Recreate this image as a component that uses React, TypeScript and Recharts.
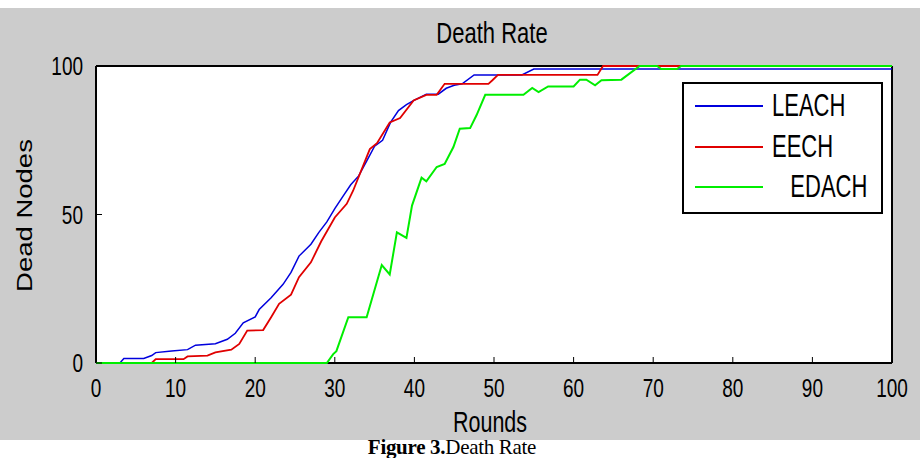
import React from "react";
import { LineChart, Line, XAxis, YAxis, CartesianGrid, Legend } from "recharts";

// axis ticks
const roundTicks = [0, 10, 20, 30, 40, 50, 60, 70, 80, 90, 100];
const deadTicks = [0, 50, 100];

// LEACH
const leachRounds = [0, 3, 3.5, 6, 7, 7.5, 9.5, 11.5, 12.5, 15, 16.5, 17.5, 18.5, 20, 20.5, 22, 23.5, 24.5, 25.5, 27, 28, 29, 30, 31, 32, 33, 34, 35, 36, 37, 38, 39, 40, 41.5, 43, 44, 45, 46, 47.5, 53.5, 55, 100];
const leachDead = [0, 0, 1.5, 1.5, 2.5, 3.5, 4, 4.5, 6, 6.5, 8, 10, 13.5, 15.5, 18, 22, 26.5, 30.5, 36, 40, 44, 47.5, 52, 56, 60, 63, 68, 73, 75, 81, 85, 87, 88.5, 90.5, 90.5, 92.5, 93.5, 94, 97, 97, 99, 99];

// EECH
const eechRounds = [0, 7, 7.5, 11, 11.5, 14, 15, 17, 18, 19, 21, 22, 23, 24.5, 25.5, 27, 28.3, 30, 31.5, 32.3, 33.2, 34.4, 35.3, 36.9, 38.2, 39.9, 41.5, 42.8, 43.8, 49.3, 49.8, 50.5, 63, 63.7, 100];
const eechDead = [0, 0, 1.3, 1.3, 2.2, 2.5, 3.6, 4.5, 6.4, 10.9, 11.1, 15.4, 19.9, 23, 28.9, 33.9, 41, 49, 53.6, 58, 64, 72, 74, 81, 82.5, 88.4, 90.3, 90.3, 94, 94, 95.2, 97, 97, 100, 100];

// EDACH
const edachRounds = [0, 29, 29.8, 30.2, 31.7, 34, 35.9, 36.9, 37.8, 39, 39.7, 40.9, 41.5, 42.8, 43.8, 44.9, 45.7, 47, 47.8, 48.9, 53.7, 54.8, 55.6, 56.8, 60, 60.8, 61.6, 62.7, 63.5, 66, 68.3, 70.5, 71, 73, 73.5, 100];
const edachDead = [0, 0, 3, 4, 15.4, 15.4, 33, 29.8, 44, 42.1, 53, 62.4, 61.2, 66, 67, 72.7, 78.9, 79.1, 83.4, 90.3, 90.3, 92.6, 91.2, 93.1, 93.1, 95.4, 95.4, 93.5, 95.2, 95.4, 100, 100, 99, 99, 100, 100];

const seriesNames = ["LEACH", "EECH", "   EDACH"];
const seriesColors = ["#0000dd", "#e00000", "#00ee00"];
const seriesWidths = [1.5, 1.8, 2];

const toPoints = (rounds: number[], dead: number[]) =>
  rounds.map((round, i) => ({ round, dead: dead[i] }));

const seriesData = [
  toPoints(leachRounds, leachDead),
  toPoints(eechRounds, eechDead),
  toPoints(edachRounds, edachDead),
];

const SANS = "'Liberation Sans', Arial, sans-serif";
const TICK_LEN = 6;
// the figure text looks stretched vertically
const STRETCH = 1.33;

const TallText = ({ x, y, size, anchor = "middle", children }: any) => (
  <text
    transform={`translate(${x} ${y}) scale(1 ${STRETCH})`}
    textAnchor={anchor}
    fontSize={size}
    fontFamily={SANS}
    fill="#000"
  >
    {children}
  </text>
);

const BottomTick = ({ x, y, payload }: any) => (
  <g>
    <line x1={x} y1={y} x2={x} y2={y - TICK_LEN} stroke="#000" />
    <TallText x={x} y={y + 34} size={19}>
      {payload.value}
    </TallText>
  </g>
);

const TopTick = ({ x, y }: any) => (
  <line x1={x} y1={y} x2={x} y2={y + TICK_LEN} stroke="#000" />
);

const LeftTick = ({ x, y, payload }: any) => (
  <g>
    <line x1={x} y1={y} x2={x + TICK_LEN} y2={y} stroke="#000" />
    <TallText x={x - 13} y={y + 9} size={19} anchor="end">
      {payload.value}
    </TallText>
  </g>
);

const RightTick = ({ x, y }: any) => (
  <line x1={x} y1={y} x2={x - TICK_LEN} y2={y} stroke="#000" />
);

const TitleLabel = ({ viewBox }: any) => (
  <TallText x={viewBox.x + viewBox.width / 2 - 2} y={viewBox.y + 43} size={22}>
    Death Rate
  </TallText>
);

const XTitle = ({ viewBox }: any) => (
  <TallText x={viewBox.x + viewBox.width / 2 - 4} y={viewBox.y + 69} size={21.5}>
    Rounds
  </TallText>
);

const YTitle = ({ viewBox }: any) => {
  const cx = viewBox.x + 32;
  const cy = viewBox.y + viewBox.height / 2 + 1;
  return (
    <text
      transform={`translate(${cx} ${cy}) rotate(-90) scale(1.25 1)`}
      textAnchor="middle"
      fontSize={22}
      fontFamily={SANS}
      fill="#000"
    >
      Dead Nodes
    </text>
  );
};

const LegendBox = () => (
  <div
    style={{
      boxSizing: "border-box",
      width: 201,
      height: 132,
      border: "2px solid #000",
      background: "#fff",
      paddingTop: 2,
      paddingLeft: 11,
    }}
  >
    {seriesNames.map((name, i) => (
      <div key={name} style={{ display: "flex", alignItems: "center", height: 40.5 }}>
        <span style={{ display: "inline-block", width: 68, height: 2, background: seriesColors[i] }} />
        <span
          style={{
            display: "inline-block",
            marginLeft: 9,
            fontSize: 22,
            fontFamily: SANS,
            color: "#000",
            whiteSpace: "pre",
            lineHeight: 1,
            transform: "scaleY(1.4)",
          }}
        >
          {name}
        </span>
      </div>
    ))}
  </div>
);

export default function App() {
  return (
    <div style={{ position: "absolute", left: 0, top: 0, width: 920, height: 458, background: "#fff" }}>
      <div style={{ position: "absolute", left: 0, top: 8, width: 920, height: 432, background: "#cccccc" }} />
      <div style={{ position: "absolute", left: 0, top: 0 }}>
        <LineChart width={920} height={458} margin={{ top: 0, right: 0, bottom: 0, left: 0 }}>
          <CartesianGrid horizontal={false} vertical={false} fill="#fff" xAxisId="bottom" yAxisId="left" />
          <XAxis
            xAxisId="bottom"
            dataKey="round"
            type="number"
            domain={[0, 100]}
            ticks={roundTicks}
            interval={0}
            height={95}
            tickSize={0}
            tickMargin={0}
            tick={BottomTick}
            axisLine={{ stroke: "#000", strokeWidth: 2 }}
            label={{ content: XTitle }}
          />
          <XAxis
            xAxisId="top"
            orientation="top"
            type="number"
            domain={[0, 100]}
            ticks={roundTicks}
            interval={0}
            height={66}
            tickSize={0}
            tickMargin={0}
            tick={TopTick}
            axisLine={{ stroke: "#000", strokeWidth: 2 }}
            label={{ content: TitleLabel }}
          />
          <YAxis
            yAxisId="left"
            type="number"
            domain={[0, 100]}
            ticks={deadTicks}
            interval={0}
            width={96}
            tickSize={0}
            tickMargin={0}
            tick={LeftTick}
            axisLine={{ stroke: "#000", strokeWidth: 2 }}
            label={{ content: YTitle }}
          />
          <YAxis
            yAxisId="right"
            orientation="right"
            type="number"
            domain={[0, 100]}
            ticks={deadTicks}
            interval={0}
            width={28}
            tickSize={0}
            tickMargin={0}
            tick={RightTick}
            axisLine={{ stroke: "#000", strokeWidth: 2 }}
          />
          {seriesData.map((data, i) => (
            <Line
              key={seriesNames[i]}
              xAxisId="bottom"
              yAxisId="left"
              data={data}
              dataKey="dead"
              name={seriesNames[i]}
              type="linear"
              stroke={seriesColors[i]}
              strokeWidth={seriesWidths[i]}
              dot={false}
              activeDot={false}
              isAnimationActive={false}
              zIndex={600 + i}
            />
          ))}
          <Legend
            content={LegendBox}
            wrapperStyle={{ left: 682, top: 82, width: 0, height: 0, overflow: "visible" }}
          />
        </LineChart>
      </div>
      <div
        style={{
          position: "absolute",
          left: 0,
          top: 435,
          width: 920,
          textAlign: "center",
          fontFamily: "'Liberation Serif', serif",
          fontSize: 21,
          letterSpacing: -0.3,
          color: "#000",
          paddingRight: 16,
          boxSizing: "border-box",
        }}
      >
        <b>Figure 3.</b>Death Rate
      </div>
    </div>
  );
}
